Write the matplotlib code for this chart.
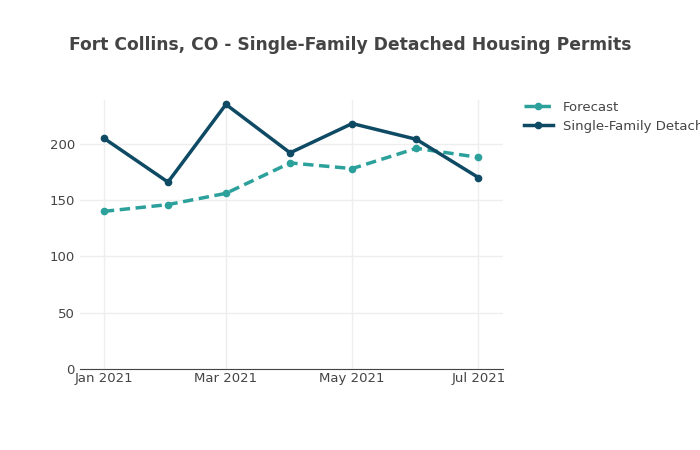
import matplotlib
matplotlib.use("Agg")
import matplotlib.pyplot as plt
import pandas as pd

months = pd.to_datetime(["2021-01-01","2021-02-01","2021-03-01","2021-04-01","2021-05-01","2021-06-01","2021-07-01"])
forecast = [140, 146, 156, 183, 178, 196, 188]
actual = [205, 166, 235, 192, 218, 204, 170]
tick_dates = pd.to_datetime(["2021-01-01","2021-03-01","2021-05-01","2021-07-01"])
tick_labels = ["Jan 2021","Mar 2021","May 2021","Jul 2021"]

fig = plt.figure(figsize=(7,4.5), dpi=100)
ax = fig.add_axes([0.114, 0.18, 0.605, 0.598])
ax.plot(months, forecast, color="#2ca09b", lw=2.5, ls=(0,(3,1.6)), marker="o", ms=4.5, label="Forecast")
ax.plot(months, actual, color="#0e4a64", lw=2.5, marker="o", ms=4.5, label="Single-Family Detached")
ax.set_ylim(0, 239)
ax.set_xlim(months[0]-pd.Timedelta(days=11.6), months[-1]+pd.Timedelta(days=12))
ax.set_yticks([0,50,100,150,200])
ax.set_xticks(tick_dates)
ax.set_xticklabels(tick_labels)
ax.grid(True, color="#eeeeee", lw=1)
for s in ["top","right","left"]:
    ax.spines[s].set_visible(False)
ax.spines["bottom"].set_color("#444444")
ax.tick_params(axis="both", length=0, colors="#444444", labelsize=9.5)
ax.tick_params(axis="x", pad=2)
ax.set_axisbelow(True)
fig.text(0.5, 0.9, "Fort Collins, CO - Single-Family Detached Housing Permits", ha="center", va="center",
         fontsize=12.3, fontweight="bold", color="#444444")
leg = ax.legend(loc="upper left", bbox_to_anchor=(1.02, 1.04), frameon=False, fontsize=9.5,
                handlelength=2.2, labelspacing=0.45)
for t in leg.get_texts():
    t.set_color("#444444")
fig.savefig("out.png", dpi=100)
